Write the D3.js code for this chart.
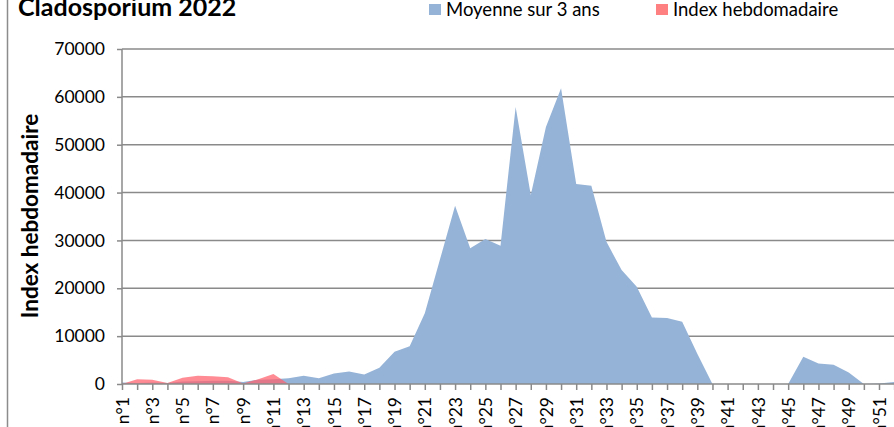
<!DOCTYPE html>
<html><head><meta charset="utf-8">
<script src="https://cdn.jsdelivr.net/npm/d3@7"></script>
<style>body{margin:0;background:#fff;overflow:hidden}svg{display:block}</style>
</head><body>
<script>
const weeks = d3.range(1, 53).map(i => "n°" + i);
const moyenne = [300,200,300,200,500,600,700,700,400,900,1000,1200,1700,1200,2200,2600,2000,3400,6750,7900,14800,26000,37250,28350,30300,28900,57900,39500,53700,61800,41800,41400,29700,23800,20300,13900,13800,13000,6300,0,0,0,0,0,0,5700,4300,4000,2400,0,100,400];
const index = [0,1000,900,200,1300,1700,1600,1400,100,1000,2100,0];
const yTicks = [0,10000,20000,30000,40000,50000,60000,70000];

const W = 894, H = 427;
const svg = d3.select("body").append("svg").attr("width", W).attr("height", H);
const font = "Lato, 'Open Sans', sans-serif";

const x = d3.scalePoint().domain(weeks).range([122, 122 + 51 * 15.14]);
const y = d3.scaleLinear().domain([0, 70000]).range([384, 49]);

// frame left border
svg.append("line").attr("x1", 7.5).attr("x2", 7.5).attr("y1", 0).attr("y2", H)
  .attr("stroke", "#8c8c8c").attr("stroke-width", 1.5);

// gridlines
svg.append("g").selectAll("line").data(yTicks.slice(1)).join("line")
  .attr("x1", 122).attr("x2", W).attr("y1", d => y(d)).attr("y2", d => y(d))
  .attr("stroke", "#8a8a8a").attr("stroke-width", 1.5);

const area = d3.area().x((d, i) => x(weeks[i])).y0(y(0)).y1(d => y(d));
svg.append("path").datum(moyenne).attr("d", area).attr("fill", "#95B3D7");
svg.append("path").datum(index).attr("d", area).attr("fill", "#FF5F6B").attr("fill-opacity", 0.72);

// y axis
const ya = svg.append("g").attr("transform", "translate(122,0)")
  .call(d3.axisLeft(y).tickValues(yTicks).tickSize(5).tickPadding(12).tickFormat(d3.format("d")));
ya.select(".domain").attr("stroke", "#8a8a8a").attr("stroke-width", 1.5).attr("d", "M0,49V384");
ya.selectAll(".tick line").attr("stroke", "#8a8a8a").attr("stroke-width", 1.5);
ya.selectAll("text").attr("font-family", font).attr("font-size", 17.5).attr("fill", "#000");

// x axis
const xa = svg.append("g").attr("transform", "translate(0,384)")
  .call(d3.axisBottom(x).tickSize(6).tickFormat((d, i) => i % 2 === 0 ? d : ""));
xa.select(".domain").attr("stroke", "#8a8a8a").attr("stroke-width", 1.5).attr("d", "M122,0H" + W);
xa.selectAll(".tick line").attr("stroke", "#8a8a8a").attr("stroke-width", 1.5);
xa.selectAll("text").attr("font-family", font).attr("font-size", 17.5).attr("fill", "#000")
  .attr("transform", "rotate(-90)").attr("text-anchor", "end")
  .attr("x", -13).attr("y", 0).attr("dy", "0.35em");

// title
svg.append("text").attr("x", 18).attr("y", 16).text("Cladosporium 2022")
  .attr("font-family", font).attr("font-weight", "bold").attr("font-size", 25).attr("fill", "#000");

// y title
svg.append("text").attr("transform", "translate(38,216) rotate(-90)").attr("text-anchor", "middle")
  .text("Index hebdomadaire").attr("font-family", font).attr("font-weight", "bold")
  .attr("font-size", 22.5).attr("fill", "#000");

// legend
const leg = [{t: "Moyenne sur 3 ans", c: "#95B3D7", x: 429}, {t: "Index hebdomadaire", c: "#FF8080", x: 656}];
const lg = svg.append("g").selectAll("g").data(leg).join("g");
lg.append("rect").attr("x", d => d.x).attr("y", 4).attr("width", 12).attr("height", 11).attr("fill", d => d.c);
lg.append("text").attr("x", d => d.x + 17).attr("y", 16).text(d => d.t)
  .attr("font-family", font).attr("font-size", 18.5).attr("fill", "#000");
</script>
</body></html>
